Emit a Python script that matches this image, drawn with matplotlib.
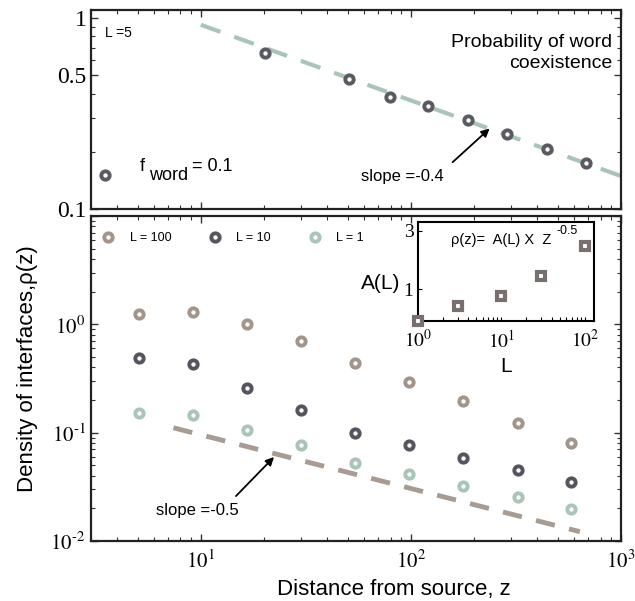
import numpy as np
import matplotlib
matplotlib.use('Agg')
import matplotlib.pyplot as plt
from matplotlib.ticker import FixedLocator, FixedFormatter, LogLocator, NullFormatter

plt.rcParams['font.family'] = ['Liberation Sans', 'DejaVu Sans']
plt.rcParams['mathtext.fontset'] = 'stix'

# top panel: probability of word coexistence, L = 5
z_top = [20.3, 51, 79.4, 120, 188, 287, 444, 680]
p_top = [0.656, 0.477, 0.385, 0.348, 0.294, 0.246, 0.206, 0.174]
fit_top_z = [10, 1000]
fit_top_p = [0.92, 0.149]

# bottom panel: density of interfaces
z_bot = [5.07, 9.15, 16.5, 29.9, 54.3, 98, 177, 322, 581]
rho_L100 = [1.256, 1.29, 1.0, 0.696, 0.438, 0.295, 0.197, 0.122, 0.0808]
rho_L10 = [0.488, 0.429, 0.257, 0.161, 0.1, 0.0774, 0.059, 0.0457, 0.0352]
rho_L1 = [0.151, 0.147, 0.106, 0.0769, 0.0527, 0.0414, 0.0325, 0.0255, 0.0197]
fit_bot_z = [7.4, 637]
fit_bot_rho = [0.111, 0.0122]

# inset: amplitude A(L)
L_vals = [1, 3, 10, 30, 100]
A_vals = [0.55, 0.733, 0.873, 1.27, 2.26]

c_L100 = '#a39589'
c_L10 = '#55555f'
c_L1 = '#a8c5b8'
c_top = '#5a5a62'
c_sq = '#7a6f6f'
serif = 'Liberation Serif'


def pow10(e):
    s = r'\text{-}%d' % -e if e < 0 else '%d' % e
    return r'$\mathrm{10^{%s}}$' % s


fig = plt.figure(figsize=(6.35, 6.01), dpi=100)
ax1 = fig.add_axes([0.1433, 0.652, 0.8346, 0.3314])
ax2 = fig.add_axes([0.1433, 0.0998, 0.8346, 0.5408])
axin = fig.add_axes([0.6578, 0.4659, 0.2781, 0.1641])

ring = dict(ls='none', marker='o', ms=6, mew=2.8, mfc='white')


def frame(ax):
    for s in ax.spines.values():
        s.set_linewidth(1.6)
        s.set_color('#222222')
    ax.tick_params(which='both', direction='in', top=True, right=True,
                   color='#333333')
    ax.tick_params(which='major', length=5, width=1)
    ax.tick_params(which='minor', length=3, width=0.8)


def arrow(ax, head, tail):
    ax.annotate('', xy=head, xytext=tail,
                arrowprops=dict(arrowstyle='-|>', color='black', lw=1.3,
                                mutation_scale=12, shrinkA=0, shrinkB=0))


# ---- top panel
ax1.set_xscale('log')
ax1.set_yscale('log')
ax1.plot(fit_top_z, fit_top_p, ls=(0, (5, 3.5)), lw=3, color='#a9c4b8', zorder=1)
ax1.plot(z_top, p_top, mec=c_top, zorder=3, **ring)
ax1.set_xlim(3, 1000)
ax1.set_ylim(0.1, 1.1)
ax1.yaxis.set_major_locator(FixedLocator([0.1, 0.5, 1]))
ax1.yaxis.set_major_formatter(FixedFormatter(['0.1', '0.5', '1']))
ax1.yaxis.set_minor_locator(LogLocator(subs=np.arange(2, 10)))
ax1.yaxis.set_minor_formatter(NullFormatter())
ax1.xaxis.set_major_formatter(NullFormatter())
ax1.xaxis.set_minor_formatter(NullFormatter())
frame(ax1)
ax1.tick_params(axis='y', labelsize=17, pad=3)
for t in ax1.get_yticklabels():
    t.set_fontfamily(serif)
ax1.text(0.026, 0.884, 'L =5', transform=ax1.transAxes, fontsize=10, va='center')
ax1.text(0.983, 0.88, 'Probability of word\ncoexistence', transform=ax1.transAxes,
         fontsize=14, ha='right', va='top', multialignment='right', linespacing=1.35)
ax1.plot([0.026], [0.171], transform=ax1.transAxes, mec=c_top, clip_on=False, **ring)
ax1.text(0.092, 0.171, 'f', transform=ax1.transAxes, fontsize=13, va='bottom')
ax1.text(0.109, 0.125, 'word', transform=ax1.transAxes, fontsize=13, va='bottom')
ax1.text(0.190, 0.171, '= 0.1', transform=ax1.transAxes, fontsize=13, va='bottom')
ax1.text(90.8, 0.149, 'slope =-0.4', fontsize=12, ha='center', va='center')
arrow(ax1, (237, 0.264), (158, 0.176))

# ---- bottom panel
ax2.set_xscale('log')
ax2.set_yscale('log')
ax2.plot(fit_bot_z, fit_bot_rho, ls=(0, (4, 3)), lw=3.5, color='#a89b91', zorder=1)
ax2.plot(z_bot, rho_L100, mec=c_L100, label='L = 100', zorder=3, **ring)
ax2.plot(z_bot, rho_L10, mec=c_L10, label='L = 10', zorder=3, **ring)
ax2.plot(z_bot, rho_L1, mec=c_L1, label='L = 1', zorder=3, **ring)
ax2.set_xlim(3, 1000)
ax2.set_ylim(0.01, 10)
ax2.xaxis.set_major_locator(FixedLocator([10, 100, 1000]))
ax2.xaxis.set_major_formatter(FixedFormatter([pow10(1), pow10(2), pow10(3)]))
ax2.xaxis.set_minor_locator(LogLocator(subs=np.arange(2, 10)))
ax2.xaxis.set_minor_formatter(NullFormatter())
ax2.yaxis.set_major_locator(FixedLocator([0.01, 0.1, 1, 10]))
ax2.yaxis.set_major_formatter(FixedFormatter([pow10(-2), pow10(-1), pow10(0), '']))
ax2.yaxis.set_minor_locator(LogLocator(subs=np.arange(2, 10)))
ax2.yaxis.set_minor_formatter(NullFormatter())
frame(ax2)
ax2.tick_params(axis='x', which='major', labelsize=15, pad=6)
ax2.tick_params(axis='y', which='major', labelsize=15, pad=4)
ax2.legend(loc='upper left', ncol=3, frameon=False, fontsize=9,
           bbox_to_anchor=(0.0, 0.985), handletextpad=1.2, columnspacing=3.0,
           handlelength=1.0)
ax2.text(9.6, 0.0193, 'slope =-0.5', fontsize=12, ha='center', va='center')
arrow(ax2, (22.3, 0.0596), (14.7, 0.026))

# ---- inset
axin.set_xscale('log')
axin.set_yscale('log')
axin.plot(L_vals, A_vals, ls='none', marker='s', ms=5.5, mew=3, mec=c_sq,
          mfc='white', clip_on=False, zorder=4)
axin.set_xlim(1, 130)
axin.set_ylim(0.55, 3.5)
axin.xaxis.set_major_locator(FixedLocator([1, 10, 100]))
axin.xaxis.set_major_formatter(FixedFormatter([pow10(0), pow10(1), pow10(2)]))
axin.xaxis.set_minor_locator(LogLocator(subs=np.arange(2, 10)))
axin.xaxis.set_minor_formatter(NullFormatter())
axin.yaxis.set_major_locator(FixedLocator([1, 3]))
axin.yaxis.set_major_formatter(FixedFormatter(['1', '3']))
axin.yaxis.set_minor_locator(FixedLocator([]))
for s in axin.spines.values():
    s.set_linewidth(1.5)
    s.set_color('black')
axin.tick_params(which='both', direction='in', length=3, width=0.8)
axin.tick_params(axis='x', labelsize=14, pad=6)
axin.tick_params(axis='y', labelsize=14, pad=3)
for t in axin.get_yticklabels():
    t.set_fontfamily(serif)
axin.set_xlabel('L', fontsize=15, labelpad=4)
axin.text(-0.1, 0.38, 'A(L)', transform=axin.transAxes, fontsize=15,
          ha='right', va='center')
axin.text(0.19, 0.82, 'ρ(z)=  A(L) X  Z', transform=axin.transAxes, fontsize=10.5,
          va='center')
axin.text(0.785, 0.91, '-0.5', transform=axin.transAxes, fontsize=9, va='center')

fig.text(0.044, 0.386, 'Density of interfaces,ρ(z)', rotation=90, fontsize=16,
         ha='center', va='center')
fig.text(0.62, 0.01, 'Distance from source, z', fontsize=16, ha='center',
         va='baseline')

fig.savefig('out.png', dpi=100)
